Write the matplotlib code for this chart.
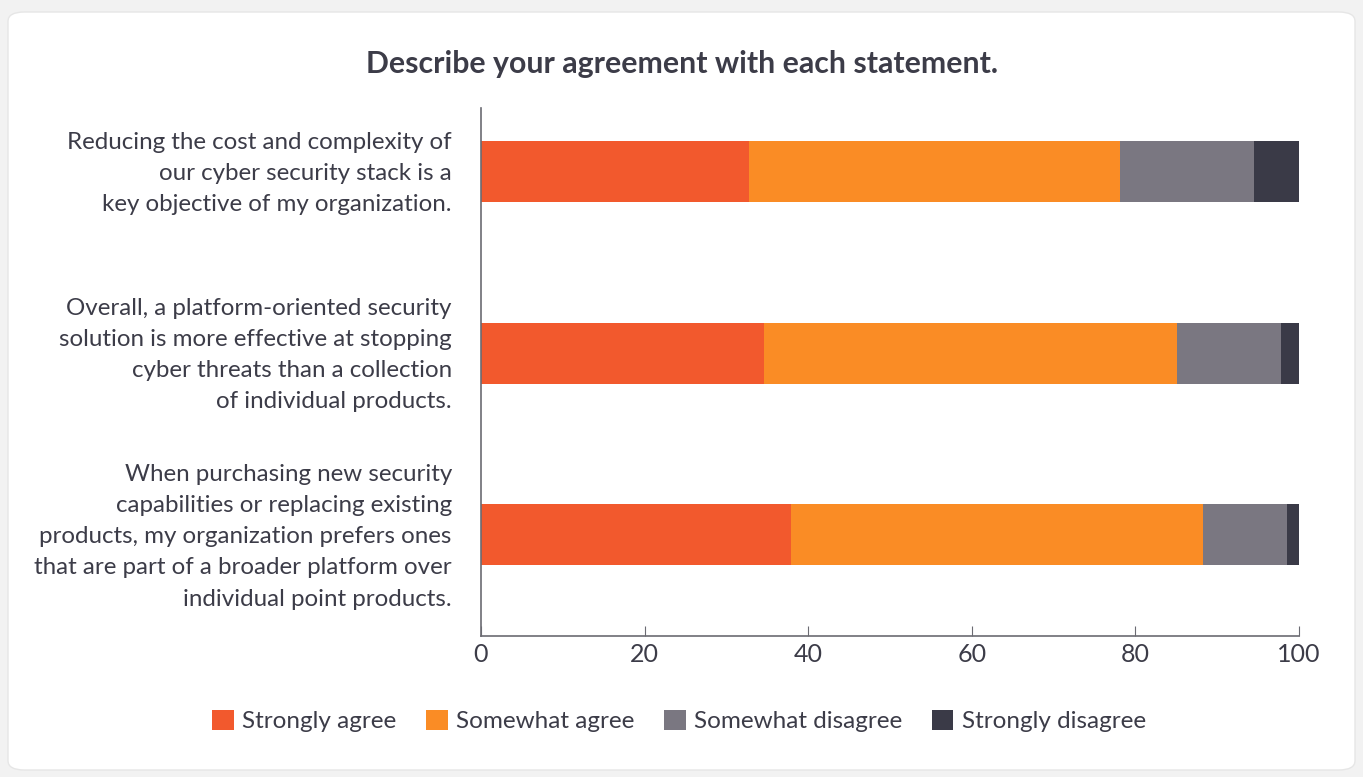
import matplotlib.pyplot as plt
import matplotlib.transforms as mtransforms
from matplotlib.patches import FancyBboxPatch, Patch
import numpy as np

statements = [
    "Reducing the cost and complexity of\nour cyber security stack is a\nkey objective of my organization.",
    "Overall, a platform-oriented security\nsolution is more effective at stopping\ncyber threats than a collection\nof individual products.",
    "When purchasing new security\ncapabilities or replacing existing\nproducts, my organization prefers ones\nthat are part of a broader platform over\nindividual point products.",
]
series = ["Strongly agree", "Somewhat agree", "Somewhat disagree", "Strongly disagree"]
strongly_agree = [32.8, 34.6, 37.9]
somewhat_agree = [45.3, 50.5, 50.4]
somewhat_disagree = [16.4, 12.7, 10.2]
strongly_disagree = [5.5, 2.2, 1.5]
colors = ["#F2592D", "#FA8C25", "#7A7781", "#3A3A47"]

plt.rcParams["font.family"] = ["Lato", "DejaVu Sans"]
text_col = "#3c3c48"

fig = plt.figure(figsize=(13.63, 7.77), dpi=100, facecolor="#f2f2f2")
card = FancyBboxPatch((8 / 1363, 7 / 777), 1347 / 1363, 758 / 777,
                      boxstyle="round,pad=0,rounding_size=0.012",
                      transform=fig.transFigure, facecolor="white",
                      edgecolor="#e6e6e6", linewidth=1, zorder=-10)
fig.patches.append(card)

ax = fig.add_axes([481 / 1363, 1 - 636 / 777, 818 / 1363, 528 / 777])
ax.set_facecolor("none")
ax.set_zorder(2)

y = np.arange(len(statements))
left = np.zeros(len(statements))
for name, vals, c in zip(series, [strongly_agree, somewhat_agree, somewhat_disagree, strongly_disagree], colors):
    ax.barh(y, vals, left=left, height=0.336, color=c, label=name)
    left += np.array(vals)

ax.set_xlim(0, 100)
ax.set_ylim(2.559, -0.35)
ax.set_xticks([0, 20, 40, 60, 80, 100])
ax.set_yticks(y)
ax.set_yticklabels(statements, fontsize=17.4, color=text_col, linespacing=1.6)
ax.tick_params(axis="y", length=0, pad=21)
ax.tick_params(axis="x", direction="in", length=7, color="#6b6b72", labelsize=18,
               labelcolor=text_col, pad=5)
shift = mtransforms.ScaledTranslation(0, 5 / 100, fig.dpi_scale_trans)
for lab in ax.get_yticklabels():
    lab.set_transform(lab.get_transform() + shift)
for s in ["top", "right"]:
    ax.spines[s].set_visible(False)
for s in ["left", "bottom"]:
    ax.spines[s].set_color("#6b6b72")
    ax.spines[s].set_linewidth(1.2)

fig.text(682 / 1363, 1 - 64 / 777, "Describe your agreement with each statement.",
         ha="center", va="center", fontsize=21.8, fontweight="bold", color=text_col)

handles = [Patch(facecolor=c, label=n) for n, c in zip(series, colors)]
fig.legend(handles=handles, loc="center", bbox_to_anchor=(679 / 1363, 1 - 721 / 777),
           ncol=4, frameon=False, fontsize=17.5, handlelength=0.9, handleheight=0.9,
           handletextpad=0.35, columnspacing=1.2, labelcolor=text_col)

fig.savefig("out.png", dpi=100, facecolor=fig.get_facecolor())
